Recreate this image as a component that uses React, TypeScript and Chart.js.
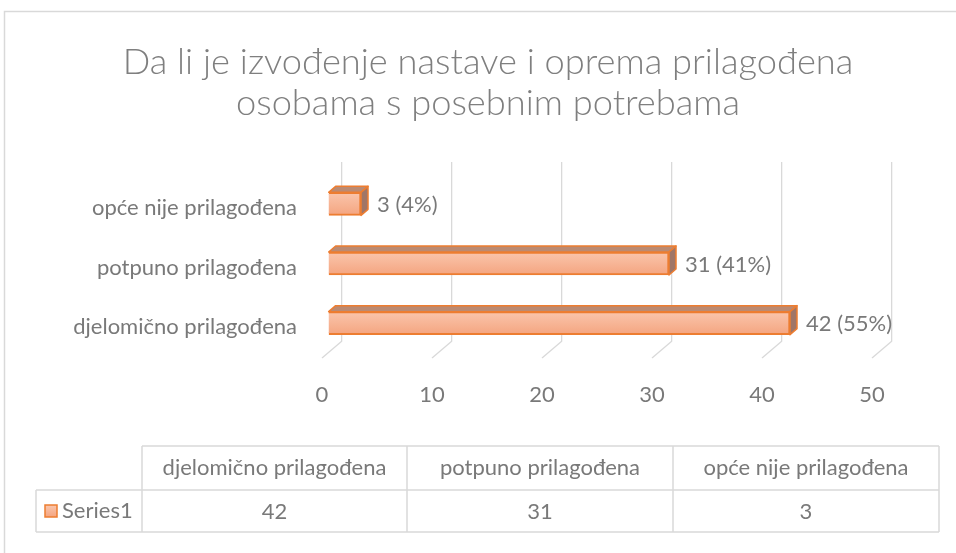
import React, { useEffect, useRef } from 'react';
import { Chart, registerables } from 'chart.js';
Chart.register(...registerables);

// ---- data ----
const titleLines = ['Da li je izvođenje nastave i oprema prilagođena', 'osobama s posebnim potrebama'];
const categories = ['djelomično prilagođena', 'potpuno prilagođena', 'opće nije prilagođena'];
const values = [42, 31, 3];
const seriesName = 'Series1';
const axisMin = 0;
const axisMax = 50;
const axisStep = 10;

// ---- styling / layout ----
const W = 956;
const H = 553;
const FONT = 'Lato, "Open Sans", sans-serif';
const TEXT = '#797979';
const GRID = '#d9d9d9';
const ORANGE = '#ed7d31';
const FLOOR = { dx: -20, dy: 17 };
const FRONT = { dx: -14, dy: 12 };
const BAR_D = { dx: 7, dy: -6 };
const AREA = { left: 342, right: 892, top: 162, bottom: 341 };
const TABLE = { cols: [36, 142, 407, 673, 939], rows: [446, 490, 532] };
const LABEL_SIZE = 22;

const total = values.reduce((a, b) => a + b, 0);

function faceGradient(ctx: CanvasRenderingContext2D, y0: number, y1: number) {
  const g = ctx.createLinearGradient(0, y0, 0, y1);
  g.addColorStop(0, '#fac6ad');
  g.addColorStop(1, '#f4a47f');
  return g;
}

const threeD = {
  id: 'threeD',
  beforeDraw(chart: any) {
    const ctx: CanvasRenderingContext2D = chart.ctx;
    ctx.save();
    ctx.fillStyle = '#ffffff';
    ctx.fillRect(0, 0, W, H);
    ctx.strokeStyle = GRID;
    ctx.lineWidth = 1.5;
    ctx.beginPath();
    ctx.moveTo(4.5, H);
    ctx.lineTo(4.5, 11.5);
    ctx.lineTo(W, 11.5);
    ctx.stroke();
    // title
    ctx.fillStyle = '#7f7f7f';
    ctx.textAlign = 'center';
    ctx.textBaseline = 'middle';
    let size = 28;
    ctx.font = `300 ${size}px ${FONT}`;
    const w = ctx.measureText(titleLines[0]).width;
    size = size * 731 / w;
    ctx.font = `300 ${size}px ${FONT}`;
    ctx.fillText(titleLines[0], 488, 62);
    ctx.fillText(titleLines[1], 488, 103);
    ctx.restore();
  },
  beforeDatasetsDraw(chart: any) {
    const ctx: CanvasRenderingContext2D = chart.ctx;
    const xs = chart.scales.x;
    const bottom = chart.chartArea.bottom;
    ctx.save();
    ctx.strokeStyle = GRID;
    ctx.lineWidth = 1.3;
    xs.ticks.forEach((t: any) => {
      const x = xs.getPixelForValue(t.value);
      ctx.beginPath();
      ctx.moveTo(x, bottom);
      ctx.lineTo(x + FLOOR.dx, bottom + FLOOR.dy);
      ctx.stroke();
    });
    ctx.restore();
    ctx.save();
    ctx.translate(FRONT.dx, FRONT.dy);
  },
  afterDatasetsDraw(chart: any) {
    const ctx: CanvasRenderingContext2D = chart.ctx;
    const meta = chart.getDatasetMeta(0);
    meta.data.forEach((bar: any, i: number) => {
      const x0 = Math.min(bar.base, bar.x);
      const x1 = Math.max(bar.base, bar.x);
      const yt = bar.y - bar.height / 2;
      const yb = bar.y + bar.height / 2;
      ctx.lineWidth = 1.5;
      ctx.strokeStyle = ORANGE;
      ctx.lineJoin = 'round';
      // top face
      ctx.beginPath();
      ctx.moveTo(x0, yt);
      ctx.lineTo(x0 + BAR_D.dx, yt + BAR_D.dy);
      ctx.lineTo(x1 + BAR_D.dx, yt + BAR_D.dy);
      ctx.lineTo(x1, yt);
      ctx.closePath();
      ctx.fillStyle = '#bb8a72';
      ctx.fill();
      ctx.stroke();
      // side face
      ctx.beginPath();
      ctx.moveTo(x1, yt);
      ctx.lineTo(x1 + BAR_D.dx, yt + BAR_D.dy);
      ctx.lineTo(x1 + BAR_D.dx, yb + BAR_D.dy);
      ctx.lineTo(x1, yb);
      ctx.closePath();
      ctx.fillStyle = '#a07667';
      ctx.fill();
      ctx.stroke();
      // data label
      const v = values[i];
      const pct = Math.round((v / total) * 100);
      ctx.fillStyle = TEXT;
      ctx.font = `${LABEL_SIZE}px ${FONT}`;
      ctx.textAlign = 'left';
      ctx.textBaseline = 'middle';
      ctx.fillText(`${v} (${pct}%)`, x1 + BAR_D.dx + 9, bar.y + 1);
    });
    ctx.restore();
  },
  afterDraw(chart: any) {
    const ctx: CanvasRenderingContext2D = chart.ctx;
    const c = TABLE.cols;
    const r = TABLE.rows;
    ctx.save();
    ctx.strokeStyle = GRID;
    ctx.lineWidth = 1.5;
    ctx.beginPath();
    ctx.moveTo(c[1], r[0]); ctx.lineTo(c[4], r[0]);
    ctx.moveTo(c[0], r[1]); ctx.lineTo(c[4], r[1]);
    ctx.moveTo(c[0], r[2]); ctx.lineTo(c[4], r[2]);
    ctx.moveTo(c[0], r[1]); ctx.lineTo(c[0], r[2]);
    for (let k = 1; k < c.length; k++) {
      ctx.moveTo(c[k], r[0]); ctx.lineTo(c[k], r[2]);
    }
    ctx.stroke();
    ctx.fillStyle = TEXT;
    ctx.font = `${LABEL_SIZE}px ${FONT}`;
    ctx.textAlign = 'center';
    ctx.textBaseline = 'middle';
    categories.forEach((cat, i) => {
      const cx = (c[i + 1] + c[i + 2]) / 2;
      ctx.fillText(cat, cx, (r[0] + r[1]) / 2);
      ctx.fillText(String(values[i]), cx, (r[1] + r[2]) / 2 + 1);
    });
    // legend key
    const ky = (r[1] + r[2]) / 2;
    ctx.fillStyle = faceGradient(ctx, ky - 6, ky + 6);
    ctx.fillRect(45, ky - 6, 12, 12);
    ctx.strokeStyle = ORANGE;
    ctx.lineWidth = 1.5;
    ctx.strokeRect(45, ky - 6, 12, 12);
    ctx.fillStyle = TEXT;
    ctx.textAlign = 'left';
    ctx.fillText(seriesName, 62, ky);
    ctx.restore();
  },
};

export default function App() {
  const ref = useRef<HTMLCanvasElement>(null);
  useEffect(() => {
    const chart = new Chart(ref.current as HTMLCanvasElement, {
      type: 'bar',
      data: {
        labels: categories,
        datasets: [
          {
            label: seriesName,
            data: values,
            backgroundColor: (c: any) => {
              const ys = c.chart.scales?.y;
              if (!ys || c.dataIndex === undefined) return '#f7b08f';
              const yc = ys.getPixelForValue(c.dataIndex);
              if (!isFinite(yc)) return '#f7b08f';
              return faceGradient(c.chart.ctx, yc - 12, yc + 12);
            },
            borderColor: ORANGE,
            borderWidth: 2,
            barThickness: 23,
            clip: false as any,
          },
        ],
      },
      plugins: [threeD],
      options: {
        indexAxis: 'y',
        responsive: false,
        animation: false,
        layout: {
          padding: { left: 0, top: AREA.top, right: W - AREA.right, bottom: 0 },
        },
        plugins: { legend: { display: false }, tooltip: { enabled: false }, title: { display: false } },
        scales: {
          x: {
            min: axisMin,
            max: axisMax,
            afterFit: (s: any) => { s.height = H - AREA.bottom; },
            ticks: {
              stepSize: axisStep,
              color: TEXT,
              font: { family: FONT, size: LABEL_SIZE },
              padding: 41,
              labelOffset: FLOOR.dx,
            },
            grid: { color: GRID, lineWidth: 1.3, drawTicks: false },
            border: { display: false },
          },
          y: {
            reverse: true,
            afterFit: (s: any) => { s.width = AREA.left; },
            ticks: {
              color: TEXT,
              font: { family: FONT, size: LABEL_SIZE },
              padding: 45,
              labelOffset: 16,
            },
            grid: { display: false, drawTicks: false },
            border: { display: false },
          },
        },
      },
    } as any);
    return () => chart.destroy();
  }, []);
  return (
    <div style={{ position: 'absolute', left: 0, top: 0, width: W, height: H, background: '#fff' }}>
      <canvas ref={ref} width={W} height={H} style={{ display: 'block', width: W, height: H }} />
    </div>
  );
}
